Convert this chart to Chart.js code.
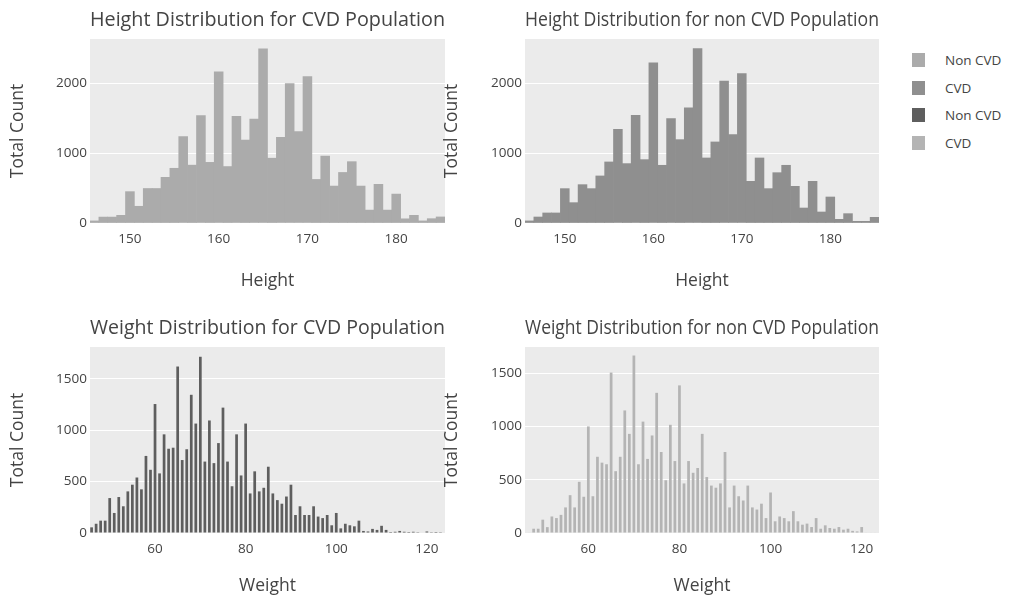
<!DOCTYPE html>
<html>
<head>
<meta charset="utf-8">
<script src="https://cdn.jsdelivr.net/npm/chart.js@4.4.0/dist/chart.umd.min.js"></script>
<style>
  html, body { margin: 0; padding: 0; background: #fff; overflow: hidden; }
  body { width: 1009px; height: 601px; position: relative; font-family: "Open Sans", sans-serif; }
  canvas { position: absolute; }
  #legend { position: absolute; left: 905px; top: 46px; color: #444; font-size: 13.5px; }
  .item { display: flex; align-items: center; height: 27.7px; }
  .swatch { width: 13px; height: 14px; margin-left: 7px; margin-right: 20px; }
</style>
</head>
<body>
<canvas id="tl" width="450" height="300" style="left:0;top:0"></canvas>
<canvas id="tr" width="460" height="300" style="left:434px;top:0"></canvas>
<canvas id="bl" width="450" height="290" style="left:0;top:308px"></canvas>
<canvas id="br" width="460" height="290" style="left:434px;top:308px"></canvas>
<div id="legend"></div>

<script>
// height bins (cm), one bar per integer value
const heightBins = [146, 147, 148, 149, 150, 151, 152, 153, 154, 155,
  156, 157, 158, 159, 160, 161, 162, 163, 164, 165,
  166, 167, 168, 169, 170, 171, 172, 173, 174, 175,
  176, 177, 178, 179, 180, 181, 182, 183, 184, 185];

const cvdHeight = [30, 85, 85, 110, 450, 240, 495, 495, 655, 785,
  1240, 830, 1540, 870, 2170, 810, 1530, 1190, 1490, 2500,
  930, 1230, 2000, 1310, 2100, 625, 960, 530, 725, 880,
  530, 185, 555, 185, 415, 60, 110, 30, 62, 87];

const nonCvdHeight = [30, 86, 144, 144, 493, 292, 550, 493, 675, 876,
  1344, 852, 1545, 909, 2297, 828, 1498, 1196, 1651, 2502,
  933, 1163, 2038, 1268, 2144, 598, 933, 493, 722, 828,
  526, 215, 598, 158, 373, 53, 134, 24, 24, 81];

// weight bins (kg)
const weightBins = [46, 47, 48, 49, 50, 51, 52, 53, 54, 55,
  56, 57, 58, 59, 60, 61, 62, 63, 64, 65,
  66, 67, 68, 69, 70, 71, 72, 73, 74, 75,
  76, 77, 78, 79, 80, 81, 82, 83, 84, 85,
  86, 87, 88, 89, 90, 91, 92, 93, 94, 95,
  96, 97, 98, 99, 100, 101, 102, 103, 104, 105,
  106, 107, 108, 109, 110, 111, 112, 113, 114, 115,
  116, 117, 118, 119, 120, 121, 122, 123];

const cvdWeight = [55, 90, 120, 120, 340, 195, 350, 260, 405, 470,
  540, 425, 750, 615, 1255, 580, 960, 820, 830, 1620,
  710, 815, 1345, 1065, 1715, 695, 1095, 680, 875, 1220,
  695, 455, 960, 560, 1065, 385, 600, 405, 440, 645,
  385, 320, 285, 355, 470, 175, 260, 175, 175, 260,
  160, 145, 175, 75, 195, 45, 90, 75, 65, 120,
  20, 15, 40, 30, 70, 30, 10, 12, 20, 12,
  10, 12, 8, 5, 15, 8, 10, 8];

const nonCvdWeight = [5, 5, 40, 40, 125, 55, 155, 140, 170, 240,
  355, 240, 480, 340, 1000, 345, 715, 660, 645, 1505,
  580, 715, 1150, 930, 1665, 645, 1045, 695, 915, 1315,
  760, 495, 1015, 675, 1385, 465, 675, 565, 610, 930,
  525, 445, 425, 465, 760, 240, 445, 345, 305, 445,
  240, 220, 275, 140, 380, 110, 155, 140, 110, 205,
  110, 78, 88, 56, 140, 40, 72, 47, 40, 56,
  31, 40, 20, 15, 56, 5, 5, 5];

// tick labels
const heightTicks = [150, 160, 170, 180];
const weightTicks = [60, 80, 100, 120];
const heightCountTicks = [0, 1000, 2000];
const weightCountTicks = [0, 500, 1000, 1500];

const panelTitles = [
  "Height Distribution for CVD Population",
  "Height Distribution for non CVD Population",
  "Weight Distribution for CVD Population",
  "Weight Distribution for non CVD Population"
];
const legendLabels = ["Non CVD", "CVD", "Non CVD", "CVD"];
const barColors = ["#ababab", "#8f8f8f", "#5e5e5e", "#b4b4b4"];

Chart.defaults.font.family = '"Open Sans", sans-serif';
Chart.defaults.color = "#444";

// gray plotting area behind grid and bars
const plotBg = {
  id: "plotBg",
  beforeDraw(chart) {
    const { ctx, chartArea: a } = chart;
    ctx.save();
    ctx.fillStyle = "#ebebeb";
    ctx.fillRect(a.left, a.top, a.right - a.left, a.bottom - a.top);
    ctx.restore();
  }
};

function makePanel(id, p) {
  new Chart(document.getElementById(id), {
    type: "bar",
    data: {
      datasets: [{
        data: p.bins.map((b, i) => ({ x: b, y: p.counts[i] })),
        backgroundColor: p.color,
        borderWidth: 0,
        categoryPercentage: 1,
        barPercentage: p.barPct
      }]
    },
    options: {
      responsive: false,
      animation: false,
      devicePixelRatio: 1,
      layout: { padding: { left: 0, right: p.rightPad, top: 0, bottom: 0 } },
      plugins: {
        legend: { display: false },
        tooltip: { enabled: false },
        title: {
          display: true,
          text: p.title,
          fullSize: false,
          color: "#444",
          font: { size: 20, weight: "normal" },
          padding: { top: 8, bottom: 7 }
        }
      },
      scales: {
        x: {
          type: "linear",
          min: p.xMin,
          max: p.xMax,
          offset: false,
          grid: { display: false, drawTicks: false },
          border: { display: false },
          ticks: {
            padding: 8,
            maxRotation: 0,
            autoSkip: false,
            font: { size: 13.5 },
            callback: v => String(v)
          },
          afterBuildTicks(s) { s.ticks = p.xTicks.map(v => ({ value: v })); },
          title: {
            display: true,
            text: p.xTitle,
            font: { size: 17.5 },
            padding: { top: 0, bottom: p.xTitlePad }
          },
          afterFit(s) { s.height = p.xAxisHeight; }
        },
        y: {
          min: 0,
          max: p.yMax,
          grid: {
            color: c => (c.tick && c.tick.value === 0 ? "rgba(0,0,0,0)" : "#ffffff"),
            lineWidth: 1,
            drawTicks: false
          },
          border: { display: false },
          ticks: {
            padding: 3,
            font: { size: 13.5 },
            callback: v => String(v)
          },
          afterBuildTicks(s) { s.ticks = p.yTicks.map(v => ({ value: v })); },
          title: {
            display: true,
            text: "Total Count",
            font: { size: 17.5 },
            padding: { top: 8, bottom: 0 }
          },
          afterFit(s) { s.width = p.yAxisWidth; }
        }
      }
    },
    plugins: [plotBg]
  });
}

makePanel("tl", {
  bins: heightBins, counts: cvdHeight, color: barColors[0], title: panelTitles[0],
  xTitle: "Height", xMin: 145.5, xMax: 185.5, xTicks: heightTicks, yMax: 2640, yTicks: heightCountTicks,
  barPct: 1, yAxisWidth: 90, rightPad: 5, xAxisHeight: 77, xTitlePad: 8
});
makePanel("tr", {
  bins: heightBins, counts: nonCvdHeight, color: barColors[1], title: panelTitles[1],
  xTitle: "Height", xMin: 145.5, xMax: 185.5, xTicks: heightTicks, yMax: 2640, yTicks: heightCountTicks,
  barPct: 1, yAxisWidth: 91, rightPad: 15, xAxisHeight: 77, xTitlePad: 8
});
makePanel("bl", {
  bins: weightBins, counts: cvdWeight, color: barColors[2], title: panelTitles[2],
  xTitle: "Weight", xMin: 45.65, xMax: 124, xTicks: weightTicks, yMax: 1810, yTicks: weightCountTicks,
  barPct: 0.6, yAxisWidth: 90, rightPad: 5, xAxisHeight: 65, xTitlePad: 1
});
makePanel("br", {
  bins: weightBins, counts: nonCvdWeight, color: barColors[3], title: panelTitles[3],
  xTitle: "Weight", xMin: 46.1, xMax: 123.8, xTicks: weightTicks, yMax: 1745, yTicks: weightCountTicks,
  barPct: 0.6, yAxisWidth: 91, rightPad: 15, xAxisHeight: 65, xTitlePad: 1
});

// legend (one entry per trace, in trace order)
const legend = document.getElementById("legend");
legendLabels.forEach((label, i) => {
  const item = document.createElement("div");
  item.className = "item";
  const sw = document.createElement("span");
  sw.className = "swatch";
  sw.style.background = barColors[i];
  const txt = document.createElement("span");
  txt.textContent = label;
  item.appendChild(sw);
  item.appendChild(txt);
  legend.appendChild(item);
});
</script>
</body>
</html>
